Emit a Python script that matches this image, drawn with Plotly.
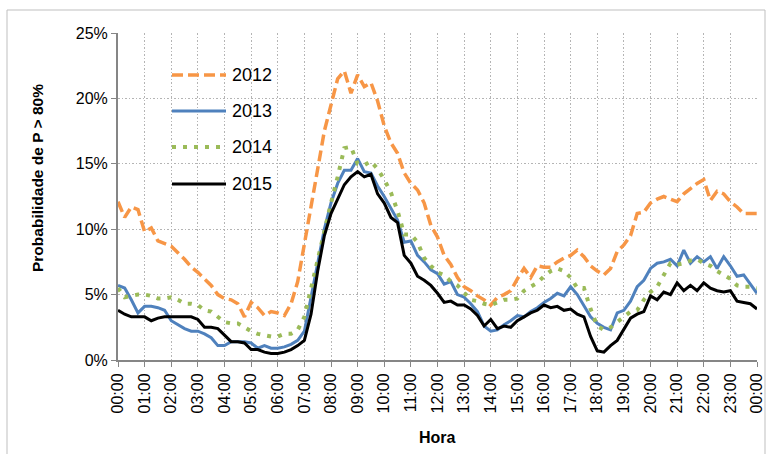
import plotly.graph_objects as go

# time steps (15-minute resolution), hours from 00:00 to 24:00
steps_per_hour = 4
hours = [i / steps_per_hour for i in range(24 * steps_per_hour + 1)]

tick_hours = list(range(25))
tick_labels = ["00:00", "01:00", "02:00", "03:00", "04:00", "05:00", "06:00", "07:00",
               "08:00", "09:00", "10:00", "11:00", "12:00", "13:00", "14:00", "15:00",
               "16:00", "17:00", "18:00", "19:00", "20:00", "21:00", "22:00", "23:00", "00:00"]

y_ticks = [0, 5, 10, 15, 20, 25]

series_names = ["2012", "2013", "2014", "2015"]

p2012 = [12.1, 10.9, 11.7, 11.5, 9.8, 10.1, 9.1, 8.9, 8.7, 8.2, 7.7, 7.1, 6.7, 6.2, 5.7, 5.0,
         4.7, 4.6, 4.3, 3.3, 4.4, 4.0, 3.4, 3.7, 3.6, 3.4, 4.3, 6.0, 8.8, 11.5, 14.6, 17.5,
         19.5, 21.5, 22.1, 20.4, 21.8, 20.9, 21.2, 19.8, 17.9, 16.6, 15.8, 14.3, 13.5, 13.0, 12.0, 10.3,
         9.4, 8.0, 7.3, 6.3, 5.6, 5.3, 4.9, 4.6, 4.2, 4.8, 5.0, 5.3, 6.2, 7.0, 6.3, 7.2,
         7.1, 7.1, 7.5, 7.8, 8.0, 8.4, 7.9, 7.2, 6.8, 6.5, 7.0, 8.3, 8.8, 9.5, 11.2, 11.3,
         12.0, 12.3, 12.5, 12.3, 12.1, 12.7, 13.1, 13.5, 13.8, 12.2, 12.9, 12.7, 12.1, 11.7, 11.2, 11.2,
         11.2]

p2013 = [5.7, 5.5, 4.6, 3.6, 4.1, 4.1, 4.0, 3.8, 3.0, 2.7, 2.4, 2.2, 2.2, 2.0, 1.7, 1.1,
         1.1, 1.4, 1.4, 1.4, 1.3, 0.9, 1.1, 0.9, 0.9, 1.0, 1.2, 1.5, 2.2, 4.8, 7.5, 10.0,
         12.0, 13.5, 14.5, 14.5, 15.4, 14.4, 14.3, 13.3, 12.5, 11.6, 10.7, 9.0, 9.1, 8.0, 7.5, 6.9,
         6.6, 5.8, 6.0, 5.0, 4.8, 4.3, 3.7, 2.6, 2.2, 2.3, 2.7, 3.0, 3.4, 3.3, 3.7, 4.0,
         4.4, 4.7, 5.1, 4.9, 5.6, 5.0, 4.2, 3.3, 2.8, 2.5, 2.3, 3.6, 3.8, 4.5, 5.6, 6.1,
         7.0, 7.4, 7.5, 7.7, 7.2, 8.4, 7.4, 7.9, 7.5, 7.9, 7.0, 7.9, 7.2, 6.4, 6.5, 5.8,
         5.1]

p2014 = [5.5, 4.8, 4.9, 5.0, 5.0, 4.9, 4.7, 4.7, 4.8, 4.6, 4.3, 4.3, 4.2, 3.8, 3.7, 3.3,
         2.9, 2.8, 2.8, 2.5, 2.2, 2.0, 1.9, 1.8, 1.8, 2.0, 2.0, 2.3, 3.3, 5.5, 7.6, 10.0,
         12.0, 14.0, 16.2, 16.3, 15.0, 14.9, 15.2, 14.6, 13.8, 12.8, 11.4, 9.6, 9.6, 9.0, 7.8, 7.2,
         6.7, 6.5, 6.0, 5.7, 5.2, 4.6, 4.5, 4.3, 4.2, 4.4, 4.6, 4.6, 4.7, 5.3, 5.6, 5.9,
         6.4, 6.8, 7.0, 6.8, 6.3, 5.5, 5.5, 3.9, 2.6, 2.3, 2.5, 2.9, 3.3, 3.7, 3.8, 4.6,
         5.2, 5.6, 6.5, 7.4, 7.3, 7.4, 7.6, 7.7, 7.4, 7.2, 6.8, 6.5, 6.2, 5.7, 5.6, 5.6,
         5.5]

p2015 = [3.8, 3.5, 3.3, 3.3, 3.3, 3.0, 3.2, 3.3, 3.3, 3.3, 3.3, 3.3, 3.1, 2.5, 2.5, 2.4,
         1.9, 1.4, 1.4, 1.3, 0.8, 0.8, 0.6, 0.5, 0.5, 0.6, 0.8, 1.1, 1.5, 3.5, 6.8, 9.5,
         11.2, 12.3, 13.4, 14.0, 14.4, 14.0, 14.2, 12.7, 12.0, 10.9, 10.5, 8.0, 7.4, 6.4, 6.1, 5.7,
         5.1, 4.4, 4.5, 4.2, 4.2, 3.9, 3.4, 2.6, 3.1, 2.4, 2.6, 2.5, 3.0, 3.3, 3.6, 3.8,
         4.2, 4.0, 4.1, 3.8, 3.9, 3.5, 3.3, 1.8, 0.7, 0.6, 1.1, 1.5, 2.3, 3.2, 3.5, 3.7,
         4.9, 4.6, 5.2, 5.0, 5.9, 5.3, 5.7, 5.3, 5.9, 5.5, 5.3, 5.2, 5.3, 4.5, 4.4, 4.3,
         3.9]

series_values = [p2012, p2013, p2014, p2015]
colors = ["#F79646", "#4F81BD", "#9BBB59", "#000000"]
dashes = ["11px,5px", "solid", "4px,7px", "solid"]
widths = [3.5, 3, 4, 3]

FONT = "Liberation Sans, Arial, sans-serif"

fig = go.Figure()
for name, vals, c, d, w in zip(series_names, series_values, colors, dashes, widths):
    fig.add_trace(go.Scatter(x=hours, y=vals, mode="lines", name=name,
                             line=dict(color=c, dash=d, width=w), showlegend=False))

# plot-area geometry in pixels, used for the manual legend and titles
L, R, T, B = 118, 14, 33, 94
W, H = 771, 454
pw, ph = W - L - R, H - T - B

def px_x(x):
    return (x - L) / pw

def px_y(y):
    return (H - B - y) / ph

shapes = []
annotations = []
# manual legend (long line samples like the original)
legend_y = [75, 111, 147, 184]
for name, c, d, w, ly in zip(series_names, colors, dashes, widths, legend_y):
    shapes.append(dict(type="line", xref="paper", yref="paper",
                       x0=px_x(172), x1=px_x(226), y0=px_y(ly), y1=px_y(ly),
                       line=dict(color=c, dash=d, width=w)))
    annotations.append(dict(text=name, xref="paper", yref="paper",
                            x=px_x(230), y=px_y(ly), xanchor="left", yanchor="middle",
                            showarrow=False, font=dict(family=FONT, size=18, color="#000000")))

# chart outer border
shapes.append(dict(type="rect", xref="paper", yref="paper",
                   x0=px_x(7), x1=px_x(765), y0=px_y(470), y1=px_y(10),
                   line=dict(color="#BFBFBF", width=1), fillcolor="rgba(0,0,0,0)", layer="below"))

annotations.append(dict(text="<b>Probabilidade de P > 80%</b>", xref="paper", yref="paper",
                        x=px_x(37), y=px_y(178), textangle=-90, showarrow=False,
                        xanchor="center", yanchor="middle",
                        font=dict(family=FONT, size=15.5, color="#000000")))
annotations.append(dict(text="<b>Hora</b>", xref="paper", yref="paper",
                        x=px_x(437), y=px_y(438), showarrow=False,
                        xanchor="center", yanchor="middle",
                        font=dict(family=FONT, size=16, color="#000000")))

fig.update_layout(
    width=W, height=H,
    margin=dict(l=L, r=R, t=T, b=B, autoexpand=False),
    paper_bgcolor="white", plot_bgcolor="white",
    showlegend=False,
    shapes=shapes, annotations=annotations,
    font=dict(family=FONT, size=16, color="#000000"),
)
grid_style = dict(showgrid=True, gridcolor="#B4B4B4", griddash="1.5px,2px", gridwidth=1,
                  showline=True, linecolor="#868686", linewidth=2,
                  ticks="outside", ticklen=5, tickcolor="#868686", tickwidth=1,
                  tickfont=dict(family=FONT, size=16, color="#000000"), zeroline=False)
fig.update_xaxes(range=[0, 24], tickmode="array", tickvals=tick_hours, ticktext=tick_labels,
                 tickangle=-90, **grid_style)
fig.update_yaxes(range=[0, 25], tickmode="array", tickvals=y_ticks,
                 ticktext=[f"{v}%" for v in y_ticks], **grid_style)

fig.write_html("out.html", config={"displayModeBar": False},
               post_script="document.body.style.margin='0px';document.body.style.overflow='hidden';")
